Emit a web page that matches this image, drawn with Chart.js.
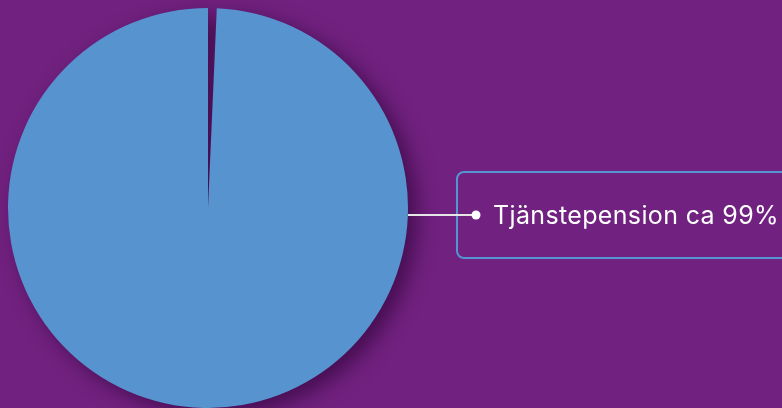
<!DOCTYPE html>
<html>
<head>
<meta charset="utf-8">
<script src="https://cdn.jsdelivr.net/npm/chart.js@4"></script>
<style>
  html, body { margin: 0; padding: 0; background: #71217f; }
  #wrap { width: 782px; height: 408px; position: relative; }
</style>
</head>
<body>
<div id="wrap"><canvas id="pensionChart" width="782" height="408"></canvas></div>
<script>
// Data
const categories = ['Övrigt', 'Tjänstepension'];
const values = [0.7, 99.3];
const sliceColors = ['rgba(0,0,0,0)', '#5793cf'];
const calloutLabel = 'Tjänstepension ca 99%';

// Skugga under tårtan
const shadowPlugin = {
    id: 'pieShadow',
    beforeDatasetsDraw(chart) {
        const ctx = chart.ctx;
        ctx.save();
        ctx.shadowColor = 'rgba(40,0,50,0.6)';
        ctx.shadowBlur = 20;
        ctx.shadowOffsetX = 9;
        ctx.shadowOffsetY = 7;
    },
    afterDatasetsDraw(chart) {
        chart.ctx.restore();
    }
};

// Etikett med linje och ruta till höger
const calloutPlugin = {
    id: 'callout',
    afterDraw(chart) {
        const ctx = chart.ctx;
        const arc = chart.getDatasetMeta(0).data[1];
        const x0 = arc.x + arc.outerRadius;
        const y = 215;
        ctx.save();
        // ruta
        ctx.strokeStyle = '#5793cf';
        ctx.lineWidth = 2;
        ctx.beginPath();
        ctx.roundRect(457, 172, 360, 86, 7);
        ctx.stroke();
        // linje + punkt
        ctx.strokeStyle = '#e6e6e6';
        ctx.lineWidth = 2;
        ctx.beginPath();
        ctx.moveTo(x0, y);
        ctx.lineTo(476, y);
        ctx.stroke();
        ctx.fillStyle = '#ffffff';
        ctx.beginPath();
        ctx.arc(476, y, 4.5, 0, Math.PI * 2);
        ctx.fill();
        // text
        ctx.fillStyle = '#ffffff';
        ctx.font = '25px Inter, "Noto Sans", sans-serif';
        ctx.letterSpacing = '0.35px';
        ctx.textBaseline = 'alphabetic';
        ctx.fillText(calloutLabel, 493, 224);
        ctx.restore();
    }
};

new Chart(document.getElementById('pensionChart'), {
    type: 'pie',
    data: {
        labels: categories,
        datasets: [{
            data: values,
            backgroundColor: sliceColors,
            borderWidth: 0
        }]
    },
    options: {
        responsive: false,
        animation: false,
        layout: { padding: { left: 8, top: 8, right: 374, bottom: 0 } },
        plugins: {
            legend: { display: false },
            tooltip: { enabled: false }
        }
    },
    plugins: [shadowPlugin, calloutPlugin]
});
</script>
</body>
</html>
